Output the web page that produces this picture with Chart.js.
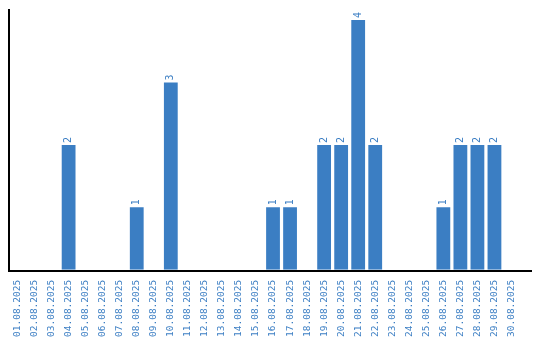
<!DOCTYPE html>
<html>
<head>
<meta charset="utf-8">
<script src="https://cdn.jsdelivr.net/npm/chart.js@4.4.1/dist/chart.umd.min.js"></script>
<style>
  html, body { margin: 0; padding: 0; background: #fff; }
  #wrap { width: 540px; height: 340px; }
</style>
</head>
<body>
<div id="wrap"><canvas id="myChart" width="540" height="340"></canvas></div>
<script>
// days of august
const days = [
  "01.08.2025", "02.08.2025", "03.08.2025", "04.08.2025", "05.08.2025",
  "06.08.2025", "07.08.2025", "08.08.2025", "09.08.2025", "10.08.2025",
  "11.08.2025", "12.08.2025", "13.08.2025", "14.08.2025", "15.08.2025",
  "16.08.2025", "17.08.2025", "18.08.2025", "19.08.2025", "20.08.2025",
  "21.08.2025", "22.08.2025", "23.08.2025", "24.08.2025", "25.08.2025",
  "26.08.2025", "27.08.2025", "28.08.2025", "29.08.2025", "30.08.2025",
];
const counts = [
  0, 0, 0, 2, 0, 0, 0, 1, 0, 3,
  0, 0, 0, 0, 0, 1, 1, 0, 2, 2,
  4, 2, 0, 0, 0, 1, 2, 2, 2, 0,
];

const blue = "#3b7ec3";
const monoFont = "'DejaVu Sans Mono', monospace";

// value on top of each bar, turned upright
const valueLabels = {
  id: "valueLabels",
  afterDatasetsDraw(chart) {
    const ctx = chart.ctx;
    const meta = chart.getDatasetMeta(0);
    ctx.save();
    ctx.fillStyle = blue;
    ctx.font = "10px " + monoFont;
    ctx.textAlign = "left";
    ctx.textBaseline = "middle";
    meta.data.forEach((bar, i) => {
      if (!counts[i]) return;
      ctx.save();
      ctx.translate(bar.x, bar.y - 2);
      ctx.rotate(-Math.PI / 2);
      ctx.fillText(String(counts[i]), 0, 0);
      ctx.restore();
    });
    ctx.restore();
  },
};

// bottom axis line, runs a bit past the last day
const bottomLine = {
  id: "bottomLine",
  afterDraw(chart) {
    const ctx = chart.ctx;
    const area = chart.chartArea;
    const y = Math.round(area.bottom) + 1;
    ctx.save();
    ctx.strokeStyle = "#000";
    ctx.lineWidth = 2;
    ctx.beginPath();
    ctx.moveTo(area.left - 1, y);
    ctx.lineTo(area.right + 12, y);
    ctx.stroke();
    ctx.restore();
  },
};

var chart = new Chart(document.getElementById("myChart"), {
  type: "bar",
  data: {
    labels: days,
    datasets: [
      {
        data: counts,
        backgroundColor: blue,
        borderWidth: 0,
        barPercentage: 0.9,
        categoryPercentage: 0.9,
      },
    ],
  },
  options: {
    responsive: false,
    animation: false,
    layout: { padding: { left: 1, right: 20, top: 10, bottom: 1 } },
    plugins: {
      legend: { display: false },
      tooltip: { enabled: false },
    },
    scales: {
      x: {
        grid: { display: false },
        border: { display: false },
        ticks: {
          color: blue,
          font: { family: monoFont, size: 9.5 },
          minRotation: 90,
          maxRotation: 90,
          autoSkip: false,
          padding: 2,
        },
      },
      y: {
        min: 0,
        max: 4.16,
        grid: { display: false },
        border: { color: "#000", width: 2 },
        ticks: { display: false },
      },
    },
  },
  plugins: [valueLabels, bottomLine],
});
</script>
</body>
</html>
